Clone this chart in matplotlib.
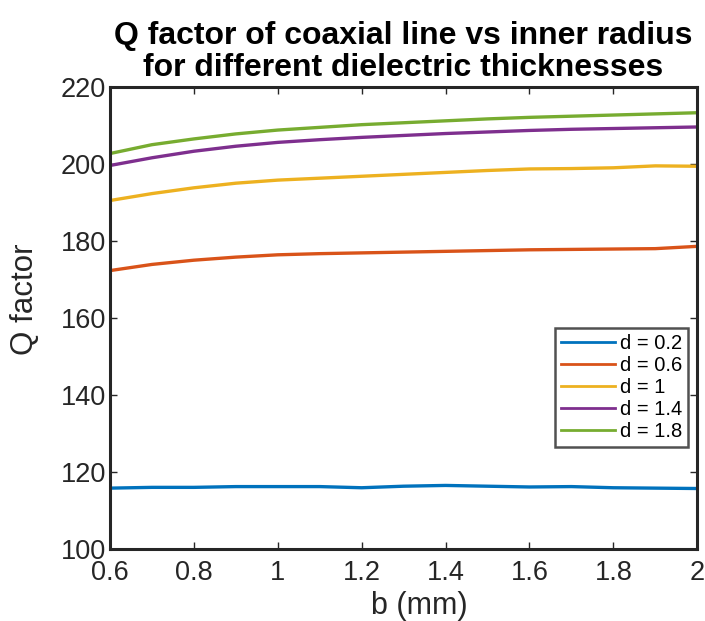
import matplotlib
matplotlib.use('Agg')
import matplotlib.pyplot as plt

plt.rcParams['font.family'] = ['Liberation Sans', 'DejaVu Sans']

# inner radius b (mm)
b = [0.6, 0.7, 0.8, 0.9, 1.0, 1.1, 1.2, 1.3, 1.4, 1.5, 1.6, 1.7, 1.8, 1.9, 2.0]

# Q factor per dielectric thickness d
q_d02 = [115.8, 116.0, 116.0, 116.2, 116.2, 116.2, 115.9, 116.3, 116.5, 116.3, 116.1, 116.2, 115.9, 115.8, 115.7]
q_d06 = [172.3, 173.9, 175.0, 175.8, 176.4, 176.7, 176.9, 177.1, 177.3, 177.5, 177.7, 177.8, 177.9, 178.0, 178.6]
q_d10 = [190.5, 192.3, 193.8, 195.0, 195.8, 196.3, 196.8, 197.3, 197.8, 198.3, 198.7, 198.8, 199.0, 199.5, 199.4]
q_d14 = [199.6, 201.6, 203.3, 204.6, 205.6, 206.3, 206.9, 207.4, 207.9, 208.3, 208.7, 209.0, 209.2, 209.4, 209.6]
q_d18 = [202.7, 205.0, 206.5, 207.8, 208.8, 209.5, 210.2, 210.7, 211.2, 211.7, 212.1, 212.4, 212.7, 213.0, 213.3]

labels = ['d = 0.2', 'd = 0.6', 'd = 1', 'd = 1.4', 'd = 1.8']
colors = ['#0072BD', '#D95319', '#EDB120', '#7E2F8E', '#77AC30']
series = [q_d02, q_d06, q_d10, q_d14, q_d18]

fig = plt.figure(figsize=(7.05, 6.21), dpi=100)
ax = fig.add_axes([0.156, 0.116, 0.833, 0.744])

for q, lab, c in zip(series, labels, colors):
    ax.plot(b, q, color=c, lw=2.4, label=lab)

ax.set_xlim(0.6, 2.0)
ax.set_ylim(100, 220)
ax.set_xticks([0.6, 0.8, 1.0, 1.2, 1.4, 1.6, 1.8, 2.0])
ax.set_xticklabels(['0.6', '0.8', '1', '1.2', '1.4', '1.6', '1.8', '2'])
ax.set_yticks(range(100, 221, 20))

ax.tick_params(direction='in', top=True, right=True, length=5, width=1,
               labelsize=19.5, colors='#262626')
ax.tick_params(axis='x', pad=8)
ax.tick_params(axis='y', pad=3)
for s in ax.spines.values():
    s.set_linewidth(2.2)
    s.set_color('#262626')

ax.set_xlabel('b (mm)', fontsize=22, color='#262626')
ax.xaxis.set_label_coords(0.526, -0.09)
ax.set_ylabel('Q factor', fontsize=22.5, color='#262626')
ax.yaxis.set_label_coords(-0.119, 0.541)
ax.set_title('Q factor of coaxial line vs inner radius\nfor different dielectric thicknesses',
             fontsize=23, fontweight='bold', pad=8, linespacing=1.08)

leg = ax.legend(loc='upper right', bbox_to_anchor=(0.9847, 0.478), fontsize=14.5,
                frameon=True, fancybox=False, borderpad=0.3, labelspacing=0.15,
                handlelength=2.7, handletextpad=0.25, borderaxespad=0)
leg.get_frame().set_edgecolor('#262626')
leg.get_frame().set_linewidth(1.8)
for line in leg.get_lines():
    line.set_linewidth(2.0)

fig.savefig('out.png', dpi=100)
